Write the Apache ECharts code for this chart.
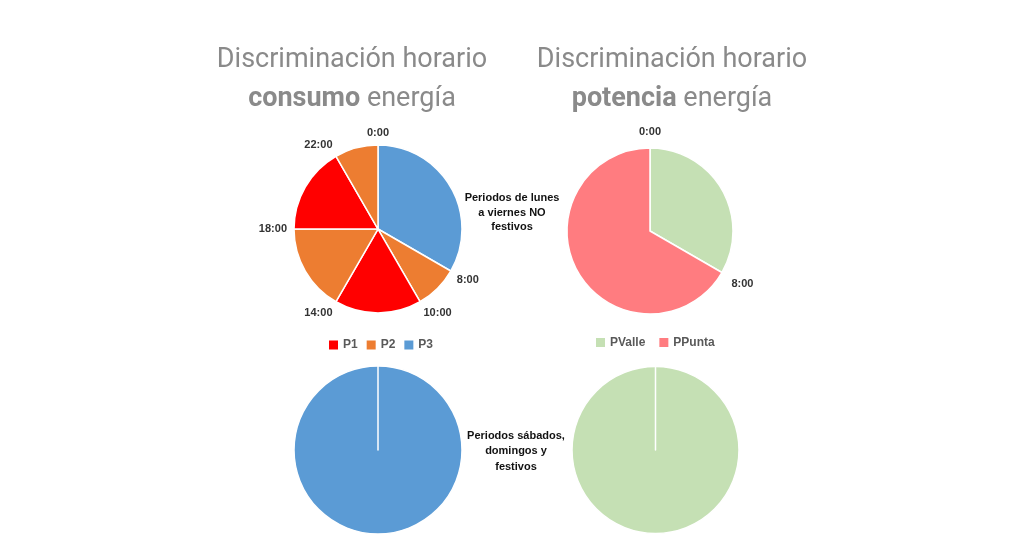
<!DOCTYPE html>
<html><head><meta charset="utf-8">
<script src="https://cdn.jsdelivr.net/npm/echarts@6/dist/echarts.min.js"></script>
<style>html,body{margin:0;padding:0;background:#fff}#c{width:1024px;height:538px}</style>
</head><body><div id="c"></div>
<script>
const periodColors = {P1:'#FF0000', P2:'#ED7D31', P3:'#5B9BD5', PValle:'#C5E0B4', PPunta:'#FF7C80'};
const consumoLegend = ['P1','P2','P3'];
const potenciaLegend = ['PValle','PPunta'];
const weekdayConsumoPeriods = ['P3','P2','P1','P2','P1','P2'];
const weekdayConsumoHours = [8,2,4,4,4,2];
const weekdayPotenciaPeriods = ['PValle','PPunta'];
const weekdayPotenciaHours = [8,16];
const weekendConsumoPeriods = ['P3'];
const weekendConsumoHours = [24];
const weekendPotenciaPeriods = ['PValle'];
const weekendPotenciaHours = [24];
const consumoTickHours = [0,8,10,14,18,22];
const consumoTickLabels = ['0:00','8:00','10:00','14:00','18:00','22:00'];
const potenciaTickHours = [0,8];
const potenciaTickLabels = ['0:00','8:00'];

function pieData(periods, hours, cutAtMidnight){
  const d = periods.map((p,i)=>({name:p, value:hours[i], itemStyle:{color:periodColors[p]}}));
  if (cutAtMidnight) d.push({name:periods[0], value:0, itemStyle:{color:periodColors[periods[0]]}});
  return d;
}
function pie(center, r, data){
  return {type:'pie', center:center, radius:r, startAngle:90, clockwise:true, silent:true,
    label:{show:false}, labelLine:{show:false}, emphasis:{disabled:true},
    itemStyle:{borderColor:'#ffffff', borderWidth:1.5}, data:data};
}
function angleAxis(idx, hoursArr, labelsArr, margin){
  return {polarIndex:idx, type:'value', min:0, max:24, interval:2, startAngle:90, clockwise:true,
    axisLine:{show:false}, axisTick:{show:false}, splitLine:{show:false},
    axisLabel:{margin:margin, fontFamily:'Liberation Sans', fontSize:11, fontWeight:'bold', color:'#333333',
      formatter:function(v){const i = hoursArr.indexOf(v); return i>=0 ? labelsArr[i] : '';}}};
}
const titleRich = {
  a:{fontFamily:'Roboto', fontSize:27, fontWeight:'normal', color:'#8a8a8a', lineHeight:39},
  b:{fontFamily:'Roboto', fontSize:27, fontWeight:'bold', color:'#8a8a8a', lineHeight:39}
};
const sideFont = "'Liberation Sans', sans-serif";
const legendCommon = {padding:0, itemWidth:9, itemHeight:9, icon:'rect', selectedMode:false,
  itemStyle:{borderWidth:0},
  textStyle:{fontFamily:'Liberation Sans', fontSize:12, fontWeight:'bold', color:'#595959'}};

const chart = echarts.init(document.getElementById('c'), null, {renderer:'canvas'});
chart.setOption({
  animation:false,
  backgroundColor:'#ffffff',
  title:[
    {text:'{a|Discriminación horario}\n{b|consumo}{a| energía}', left:352, top:41, textAlign:'center', padding:0,
      textStyle:{fontWeight:'normal', rich:titleRich}},
    {text:'{a|Discriminación horario}\n{b|potencia}{a| energía}', left:672, top:41, textAlign:'center', padding:0,
      textStyle:{fontWeight:'normal', rich:titleRich}},
    {text:'Periodos de lunes\na viernes NO\nfestivos', left:512, top:191, textAlign:'center', padding:0,
      textStyle:{fontFamily:sideFont, fontSize:11, fontWeight:'bold', color:'#111111', lineHeight:14.5}},
    {text:'Periodos sábados,\ndomingos y\nfestivos', left:516, top:428, textAlign:'center', padding:0,
      textStyle:{fontFamily:sideFont, fontSize:11, fontWeight:'bold', color:'#111111', lineHeight:15.5}}
  ],
  legend:[
    Object.assign({data:consumoLegend, left:329, top:339, itemGap:9}, legendCommon),
    Object.assign({data:potenciaLegend, left:596, top:336.5, itemGap:14}, legendCommon)
  ],
  polar:[{center:[378,229], radius:84}, {center:[650,231], radius:83}],
  angleAxis:[angleAxis(0, consumoTickHours, consumoTickLabels, 7), angleAxis(1, potenciaTickHours, potenciaTickLabels, 11)],
  radiusAxis:[{polarIndex:0, show:false}, {polarIndex:1, show:false}],
  series:[
    pie([378,229], 84, pieData(weekdayConsumoPeriods, weekdayConsumoHours, false)),
    pie([650,231], 83, pieData(weekdayPotenciaPeriods, weekdayPotenciaHours, false)),
    pie([378,450], 84, pieData(weekendConsumoPeriods, weekendConsumoHours, true)),
    pie([655.5,450], 83.5, pieData(weekendPotenciaPeriods, weekendPotenciaHours, true))
  ]
});
</script></body></html>
